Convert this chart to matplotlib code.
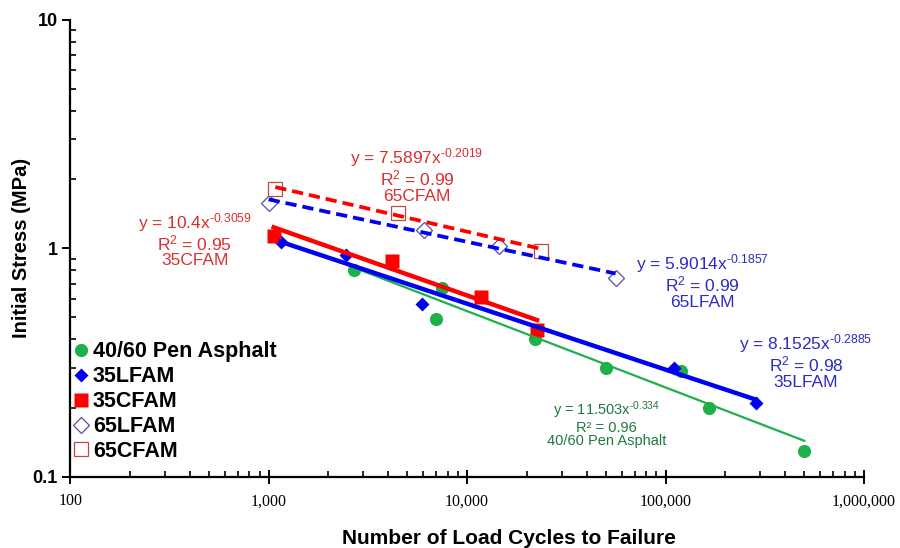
import numpy as np
import matplotlib
matplotlib.use('Agg')
import matplotlib.pyplot as plt
from matplotlib.ticker import FixedLocator, LogLocator, NullFormatter

plt.rcParams['font.family'] = ['Liberation Sans', 'DejaVu Sans']
plt.rcParams['mathtext.fontset'] = 'custom'
plt.rcParams['mathtext.rm'] = 'Liberation Sans'
plt.rcParams['mathtext.it'] = 'Liberation Sans'

# ---- data ----
pen_x = [2700, 7500, 7000, 22000, 50000, 120000, 165000, 500000]
pen_y = [0.80, 0.67, 0.49, 0.40, 0.30, 0.29, 0.20, 0.13]

lfam35_x = [1150, 2450, 5900, 110000, 285000]
lfam35_y = [1.07, 0.93, 0.57, 0.30, 0.21]

cfam35_x = [1060, 4200, 11700, 22500]
cfam35_y = [1.13, 0.88, 0.61, 0.44]

lfam65_x = [1000, 6100, 14500, 56000]
lfam65_y = [1.58, 1.20, 1.02, 0.74]

cfam65_x = [1080, 4500, 23500]
cfam65_y = [1.82, 1.42, 0.97]

# power-law trend coefficients shown on the chart (y = a * x^b)
fits = {
    'pen': (11.503, -0.334),
    'lfam35': (8.1525, -0.2885),
    'cfam35': (10.4, -0.3059),
    'lfam65': (5.9014, -0.1857),
    'cfam65': (7.5897, -0.2019),
}

x_ticks = [100, 1000, 10000, 100000, 1000000]
x_tick_labels = ['100', '1,000', '10,000', '100,000', '1,000,000']
y_ticks = [0.1, 1, 10]
y_tick_labels = ['0.1', '1', '10']

GREEN = '#1DB04B'
BLUE = '#0000F0'
RED = '#FF0000'


def trend(ax, xs, key, **kw):
    a, b = fits[key]
    xe = np.array([min(xs), max(xs)], dtype=float)
    ax.plot(xe, a * xe ** b, **kw)


fig = plt.figure(figsize=(9, 5.48), dpi=100)
ax = fig.add_axes([0.078, 0.130, 0.882, 0.834])
ax.set_xscale('log')
ax.set_yscale('log')
ax.set_xlim(100, 1000000)
ax.set_ylim(0.1, 10)

# markers
ax.plot(pen_x, pen_y, 'o', color=GREEN, ms=9.5, mec='none', label='40/60 Pen Asphalt', zorder=3)
ax.plot(lfam35_x, lfam35_y, 'D', color=BLUE, ms=7.5, mec='none', label='35LFAM', zorder=3)
ax.plot(cfam35_x, cfam35_y, 's', color=RED, ms=9.5, mec='none', label='35CFAM', zorder=3)
ax.plot(lfam65_x, lfam65_y, 'D', mfc='white', mec='#5050B0', mew=0.9, ms=8.5, ls='none',
        label='65LFAM', zorder=3)
ax.plot(cfam65_x, cfam65_y, 's', mfc='white', mec='#C04848', mew=0.9, ms=9.5, ls='none',
        label='65CFAM', zorder=3)

# trend lines
trend(ax, pen_x, 'pen', color=GREEN, lw=1.6, zorder=4)
trend(ax, lfam35_x, 'lfam35', color=BLUE, lw=3.2, zorder=4)
trend(ax, cfam35_x, 'cfam35', color=RED, lw=3.2, zorder=4)
trend(ax, lfam65_x, 'lfam65', color=BLUE, lw=2.7, ls=(0, (3, 1.6)), zorder=4)
trend(ax, cfam65_x, 'cfam65', color=RED, lw=2.7, ls=(0, (3, 1.6)), zorder=4)

# equation labels
red_txt = '#D83030'
blue_txt = '#2B2BC8'
green_txt = '#1E7A3E'
ax.text(0.437, 0.661, 'y = 7.5897x$^{\\text{-0.2019}}$\nR$^2$ = 0.99\n65CFAM',
        transform=ax.transAxes, ha='center', va='center', ma='center',
        fontsize=12.5, color=red_txt, linespacing=1.0)
ax.text(0.157, 0.519, 'y = 10.4x$^{\\text{-0.3059}}$\nR$^2$ = 0.95\n35CFAM',
        transform=ax.transAxes, ha='center', va='center', ma='center',
        fontsize=12.5, color=red_txt, linespacing=1.0)
ax.text(0.796, 0.429, 'y = 5.9014x$^{\\text{-0.1857}}$\nR$^2$ = 0.99\n65LFAM',
        transform=ax.transAxes, ha='center', va='center', ma='center',
        fontsize=12.5, color=blue_txt, linespacing=1.0)
ax.text(0.927, 0.254, 'y = 8.1525x$^{\\text{-0.2885}}$\nR$^2$ = 0.98\n35LFAM',
        transform=ax.transAxes, ha='center', va='center', ma='center',
        fontsize=12.5, color=blue_txt, linespacing=1.0)
ax.text(0.676, 0.116, 'y = 11.503x$^{\\text{-0.334}}$\nR² = 0.96\n40/60 Pen Asphalt',
        transform=ax.transAxes, ha='center', va='center', ma='center',
        fontsize=10.5, color=green_txt, linespacing=0.95)

# axes styling
for s in ['top', 'right']:
    ax.spines[s].set_visible(False)
for s in ['left', 'bottom']:
    ax.spines[s].set_linewidth(1.6)

ax.xaxis.set_major_locator(FixedLocator(x_ticks))
ax.set_xticklabels(x_tick_labels, fontfamily='Liberation Serif', fontsize=11.5)
ax.xaxis.set_minor_locator(LogLocator(base=10, subs=np.arange(2, 10)))
ax.xaxis.set_minor_formatter(NullFormatter())
ax.yaxis.set_major_locator(FixedLocator(y_ticks))
ax.set_yticklabels(y_tick_labels, fontweight='bold', fontsize=13)
ax.yaxis.set_minor_locator(LogLocator(base=10, subs=np.arange(2, 10)))
ax.yaxis.set_minor_formatter(NullFormatter())

ax.tick_params(axis='x', which='major', direction='inout', length=10, width=1.4, pad=7)
ax.tick_params(axis='x', which='minor', direction='in', length=4, width=1.2)
ax.tick_params(axis='y', which='major', direction='out', length=6, width=1.4, pad=3)
ax.tick_params(axis='y', which='minor', direction='in', length=4, width=1.2)

ax.set_xlabel('Number of Load Cycles to Failure', fontsize=15, fontweight='bold', labelpad=14)
ax.xaxis.label.set_x(0.553)
ax.set_ylabel('Initial Stress (MPa)', fontsize=14.5, fontweight='bold', labelpad=1)

leg = ax.legend(loc='upper left', bbox_to_anchor=(0.0, 0.296), frameon=False,
                prop={'weight': 'bold', 'size': 15.5}, handletextpad=0.05,
                handlelength=1.0, labelspacing=0.18, borderaxespad=0.0, borderpad=0.0)

fig.savefig('out.png', dpi=100)
